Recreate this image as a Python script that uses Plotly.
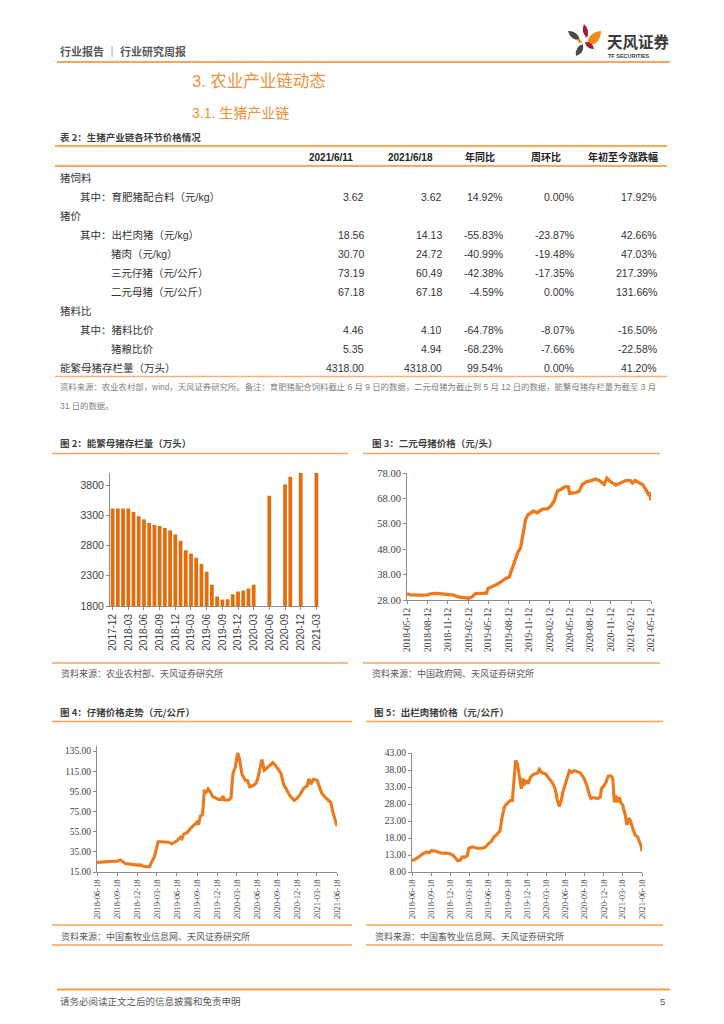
import plotly.graph_objects as go

W, H = 724, 1024

# ---------------- data ----------------
table_cols = ["2021/6/11", "2021/6/18", "年同比", "周环比", "年初至今涨跌幅"]
row_labels = ["猪饲料", "其中：育肥猪配合料（元/kg）", "猪价", "其中：出栏肉猪（元/kg）",
              "猪肉（元/kg）", "三元仔猪（元/公斤）", "二元母猪（元/公斤）", "猪料比",
              "其中：猪料比价", "猪粮比价", "能繁母猪存栏量（万头）"]
row_level = [0, 1, 0, 1, 2, 2, 2, 0, 1, 2, 0]
val_0611 = [None, 3.62, None, 18.56, 30.70, 73.19, 67.18, None, 4.46, 5.35, 4318.00]
val_0618 = [None, 3.62, None, 14.13, 24.72, 60.49, 67.18, None, 4.10, 4.94, 4318.00]
yoy_pct = [None, 14.92, None, -55.83, -40.99, -42.38, -4.59, None, -64.78, -68.23, 99.54]
wow_pct = [None, 0.00, None, -23.87, -19.48, -17.35, 0.00, None, -8.07, -7.66, 0.00]
ytd_pct = [None, 17.92, None, 42.66, 47.03, 217.39, 131.66, None, -16.50, -22.58, 41.20]

sow_months = ["2017-12", "2018-01", "2018-02", "2018-03", "2018-04", "2018-05", "2018-06",
              "2018-07", "2018-08", "2018-09", "2018-10", "2018-11", "2018-12", "2019-01",
              "2019-02", "2019-03", "2019-04", "2019-05", "2019-06", "2019-07", "2019-08",
              "2019-09", "2019-10", "2019-11", "2019-12", "2020-01", "2020-02", "2020-03",
              "2020-04", "2020-05", "2020-06", "2020-07", "2020-08", "2020-09", "2020-10",
              "2020-11", "2020-12", "2021-01", "2021-02", "2021-03"]
sow_stock = [3411, 3411, 3411, 3411, 3356, 3283, 3233, 3172, 3139, 3122, 3089, 3050,
             2983, 2878, 2722, 2667, 2600, 2494, 2367, 2150, 1956, 1906, 1911, 1994,
             2039, 2056, 2089, 2150, None, None, 3622, None, None, 3811, 3939, None,
             4161, None, None, 4318]
sow_ticks_y = [1800, 2300, 2800, 3300, 3800]

gilt_dates = ["2018-05-12", "2018-05-27", "2018-07-04", "2018-08-10", "2018-08-25", "2018-09-17",
              "2018-10-17", "2018-11-16", "2018-12-08", "2018-12-26", "2019-01-15", "2019-02-14",
              "2019-03-01", "2019-03-16", "2019-04-10", "2019-05-04", "2019-05-10", "2019-05-30",
              "2019-06-21", "2019-07-14", "2019-07-29", "2019-08-14", "2019-08-28", "2019-09-12",
              "2019-09-22", "2019-10-04", "2019-10-16", "2019-10-27", "2019-11-06", "2019-11-18",
              "2019-11-30", "2019-12-18", "2020-01-10", "2020-02-02", "2020-02-17", "2020-03-03",
              "2020-03-18", "2020-04-02", "2020-04-20", "2020-05-05", "2020-05-12", "2020-06-08",
              "2020-06-23", "2020-07-08", "2020-07-26", "2020-08-15", "2020-09-06", "2020-09-26",
              "2020-10-14", "2020-10-26", "2020-11-13", "2020-12-05", "2020-12-28", "2021-01-19",
              "2021-02-08", "2021-02-18", "2021-03-01", "2021-03-20", "2021-04-04", "2021-04-19",
              "2021-04-29", "2021-05-05", "2021-05-12"]
gilt_price = [30.5, 30.0, 29.9, 29.9, 30.4, 30.6, 30.4, 30.3, 29.9, 29.2, 28.9, 28.7,
              29.3, 30.5, 30.6, 30.7, 32.5, 33.2, 34.2, 35.5, 36.5, 37.0, 40.5, 44.5,
              46.8, 48.5, 54.5, 59.8, 61.5, 62.3, 63.0, 62.3, 63.8, 63.9, 65.0, 67.0,
              71.0, 71.5, 72.5, 72.6, 70.0, 70.3, 70.8, 73.5, 74.5, 75.0, 75.6, 74.8,
              73.5, 76.0, 74.5, 73.2, 74.0, 75.0, 75.0, 74.0, 75.0, 74.2, 73.5, 71.5,
              69.8, 70.3, 67.18]
gilt_ticks = ["2018-05-12", "2018-08-12", "2018-11-12", "2019-02-12", "2019-05-12", "2019-08-12",
              "2019-11-12", "2020-02-12", "2020-05-12", "2020-08-12", "2020-11-12", "2021-02-12",
              "2021-05-12"]
gilt_ticks_y = [28, 38, 48, 58, 68, 78]

piglet_dates = ["2018-06-18", "2018-07-11", "2018-08-03", "2018-08-25", "2018-09-17", "2018-10-03",
                "2018-10-25", "2018-11-17", "2018-12-18", "2019-01-02", "2019-01-17", "2019-02-01",
                "2019-02-13", "2019-02-24", "2019-03-07", "2019-03-16", "2019-03-24", "2019-04-06",
                "2019-04-26", "2019-05-11", "2019-05-26", "2019-06-18", "2019-07-04", "2019-07-11",
                "2019-07-19", "2019-08-03", "2019-08-18", "2019-09-02", "2019-09-18", "2019-09-25",
                "2019-10-03", "2019-10-13", "2019-10-21", "2019-10-29", "2019-11-07", "2019-11-17",
                "2019-11-28", "2019-12-10", "2019-12-26", "2020-01-10", "2020-01-14", "2020-01-22",
                "2020-02-09", "2020-02-20", "2020-02-29", "2020-03-11", "2020-03-21", "2020-03-29",
                "2020-04-10", "2020-04-25", "2020-05-06", "2020-05-15", "2020-05-29", "2020-06-13",
                "2020-06-22", "2020-07-10", "2020-07-21", "2020-08-02", "2020-08-14", "2020-08-28",
                "2020-09-09", "2020-09-24", "2020-10-05", "2020-10-17", "2020-11-02", "2020-11-17",
                "2020-12-05", "2020-12-17", "2021-01-01", "2021-01-17", "2021-02-01", "2021-02-10",
                "2021-02-19", "2021-03-03", "2021-03-19", "2021-03-29", "2021-04-10", "2021-04-26",
                "2021-05-11", "2021-05-21", "2021-05-28", "2021-06-06", "2021-06-12", "2021-06-18"]
piglet_price = [24.5, 24.8, 25.8, 25.5, 25.6, 27.0, 23.5, 22.6, 21.8, 22.0, 20.6, 20.2,
                20.3, 25.5, 30.0, 38.0, 45.0, 45.0, 45.0, 44.6, 43.0, 46.0, 49.5, 48.0,
                52.5, 54.0, 58.0, 61.5, 64.5, 62.0, 70.5, 72.0, 95.0, 94.0, 97.5, 94.5,
                90.0, 88.5, 87.0, 87.0, 90.5, 86.5, 86.5, 88.5, 113.0, 119.0, 133.0, 128.0,
                112.0, 106.0, 105.5, 99.5, 100.5, 103.0, 108.5, 126.5, 116.0, 118.0, 121.0, 123.5,
                121.0, 117.0, 113.0, 102.0, 95.0, 90.0, 86.0, 88.0, 92.0, 98.0, 100.5, 107.5,
                102.0, 107.0, 106.0, 100.0, 93.0, 89.0, 86.0, 84.0, 76.0, 70.0, 65.0, 60.49]
piglet_ticks_y = [15, 35, 55, 75, 95, 115, 135]

hog_dates = ["2018-06-18", "2018-06-26", "2018-07-09", "2018-07-25", "2018-08-10", "2018-08-25",
             "2018-09-06", "2018-09-17", "2018-10-08", "2018-10-23", "2018-11-08", "2018-11-29",
             "2018-12-15", "2018-12-31", "2019-01-11", "2019-01-22", "2019-02-04", "2019-02-12",
             "2019-02-23", "2019-03-08", "2019-03-16", "2019-04-01", "2019-04-25", "2019-05-19",
             "2019-06-03", "2019-06-15", "2019-07-01", "2019-07-13", "2019-07-26", "2019-08-11",
             "2019-08-22", "2019-09-02", "2019-09-15", "2019-09-28", "2019-10-09", "2019-10-17",
             "2019-10-25", "2019-11-02", "2019-11-11", "2019-11-21", "2019-11-29", "2019-12-05",
             "2019-12-13", "2019-12-23", "2020-01-05", "2020-01-20", "2020-02-05", "2020-02-15",
             "2020-02-25", "2020-03-16", "2020-04-01", "2020-04-17", "2020-04-30", "2020-05-11",
             "2020-05-21", "2020-05-27", "2020-06-06", "2020-06-15", "2020-06-28", "2020-07-07",
             "2020-07-18", "2020-07-30", "2020-08-15", "2020-08-30", "2020-09-15", "2020-09-28",
             "2020-10-09", "2020-10-17", "2020-10-30", "2020-11-18", "2020-12-01", "2020-12-07",
             "2020-12-20", "2020-12-29", "2021-01-08", "2021-01-21", "2021-01-30", "2021-02-06",
             "2021-02-14", "2021-02-22", "2021-03-02", "2021-03-10", "2021-03-18", "2021-03-30",
             "2021-04-07", "2021-04-15", "2021-04-23", "2021-05-04", "2021-05-15", "2021-05-28",
             "2021-06-07", "2021-06-13", "2021-06-18"]
hog_price = [11.4, 11.5, 12.0, 12.8, 13.4, 13.9, 13.6, 14.3, 14.2, 13.8, 13.5, 13.6,
             13.4, 12.9, 11.9, 11.3, 11.5, 12.4, 12.3, 12.8, 15.0, 15.4, 15.0, 15.0,
             15.3, 16.2, 17.0, 18.2, 19.0, 20.0, 24.3, 27.2, 28.2, 29.0, 29.0, 35.0,
             40.8, 40.0, 36.5, 32.5, 35.5, 33.5, 35.0, 34.0, 36.0, 36.8, 37.0, 38.2,
             37.3, 36.8, 35.5, 34.2, 32.5, 29.0, 27.3, 28.5, 31.5, 33.5, 36.0, 37.8,
             37.3, 37.8, 37.5, 37.0, 35.5, 33.5, 31.0, 29.6, 29.9, 29.6, 30.0, 32.5,
             33.5, 34.5, 36.2, 36.3, 35.5, 28.5, 30.5, 28.5, 30.0, 28.3, 27.7, 24.8,
             21.8, 23.8, 23.2, 21.0, 19.0, 18.3, 16.8, 15.8, 14.13]
hog_ticks = ["2018-06-18", "2018-09-18", "2018-12-18", "2019-03-18", "2019-06-18", "2019-09-18",
             "2019-12-18", "2020-03-18", "2020-06-18", "2020-09-18", "2020-12-18", "2021-03-18",
             "2021-06-18"]
hog_ticks_y = [8, 13, 18, 23, 28, 33, 38, 43]

# ---------------- helpers ----------------
def X(px):
    return px / W

def Y(py):
    return 1 - py / H

CJK = "Noto Sans CJK SC"
SANS = "Liberation Sans, Arial, Noto Sans CJK SC"
SERIF = "Liberation Serif, Times New Roman, serif"
ORANGE = "#EC7A1C"
BAR = "#E46C0A"
LINE_OR = "#F5A45A"
TXT = "#333333"

annotations = []
shapes = []

def text(px, py, s, size, color=TXT, anchor="left", family=SANS, bold=False):
    annotations.append(dict(x=X(px), y=Y(py), xref="paper", yref="paper", text=(f"<b>{s}</b>" if bold else s),
                            showarrow=False, xanchor=anchor, yanchor="middle",
                            font=dict(size=size, color=color, family=family)))

def hline(x0, x1, py, color, width):
    shapes.append(dict(type="line", xref="paper", yref="paper", x0=X(x0), x1=X(x1), y0=Y(py), y1=Y(py),
                       line=dict(color=color, width=width)))

def leaf(p1, p2, w, color):
    (x1, y1), (x2, y2) = p1, p2
    mx, my = (x1 + x2) / 2, (y1 + y2) / 2
    dx, dy = x2 - x1, y2 - y1
    L = (dx * dx + dy * dy) ** 0.5
    nx, ny = -dy / L * w, dx / L * w
    c1 = (mx + nx, my + ny)
    c2 = (mx - nx, my - ny)
    path = (f"M {X(x1)},{Y(y1)} Q {X(c1[0])},{Y(c1[1])} {X(x2)},{Y(y2)} "
            f"Q {X(c2[0])},{Y(c2[1])} {X(x1)},{Y(y1)} Z")
    shapes.append(dict(type="path", xref="paper", yref="paper", path=path,
                       fillcolor=color, line=dict(width=0)))

# ---------------- header ----------------
text(58, 51, "行业报告 ｜ 行业研究周报", 11, "#595959", family=CJK, bold=True)
hline(57, 670, 62, "#F08A24", 1.6)
leaf((568, 31), (580, 40), 6, "#4A4A4A")
leaf((584, 24), (587, 38), 5, "#A51C36")
leaf((601, 31), (587, 46), 9, "#F08A1C")
leaf((577, 39), (582, 43), 3, "#F08A1C")
leaf((585, 42), (594, 49), 5, "#A51C36")
leaf((583, 44), (576, 56), 6, "#4A4A4A")
text(605, 41, "天风证券", 15.5, "#3A3A3A", family=CJK, bold=True)
text(606, 56, "TF SECURITIES", 5.5, "#3A3A3A", family=SANS, bold=True)

text(190, 81, "3. 农业产业链动态", 16.5, "#F0913A", family=SANS)
text(190, 113, "3.1. 生猪产业链", 14, "#F0913A", family=SANS)

# ---------------- table ----------------
text(58, 137, "表 2：生猪产业链各环节价格情况", 9.5, "#404040", family=CJK, bold=True)
hline(55, 667, 146, "#F28E2B", 1.5)
hline(55, 667, 166, "#F28E2B", 1.5)
col_centers = [331, 410, 480, 546, 623]
col_rights = [366, 444, 505, 576, 659]
for c, h in zip(col_centers, table_cols):
    text(c, 157, h, 10, "#222222", anchor="center", family=SANS, bold=True)

indent_x = [58, 78, 109]
row_y0, row_dy = 177.5, 19.05
for i, lab in enumerate(row_labels):
    yy = row_y0 + i * row_dy
    text(indent_x[row_level[i]], yy, lab, 10.5, TXT, family=SANS)
    cols = [val_0611[i], val_0618[i], yoy_pct[i], wow_pct[i], ytd_pct[i]]
    for j, v in enumerate(cols):
        if v is None:
            continue
        s = f"{v:.2f}%" if j >= 2 else f"{v:.2f}"
        text(col_rights[j], yy, s, 10.5, TXT, anchor="right", family=SANS)
hline(55, 667, 376.5, "#F6B27A", 1.3)
text(58, 387, "资料来源：农业农村部，wind，天风证券研究所。备注：育肥猪配合饲料截止 6 月 9 日的数据，二元母猪为截止到 5 月 12 日的数据，能繁母猪存栏量为截至 3 月",
     8.4, "#808080", family=SANS)
text(58, 406, "31 日的数据。", 8.4, "#808080", family=SANS)

# ---------------- chart titles / sources ----------------
text(58, 443, "图 2：能繁母猪存栏量（万头）", 9.5, "#404040", family=CJK, bold=True)
hline(52, 348, 453.5, LINE_OR, 1.3)
hline(52, 348, 663, LINE_OR, 1.3)
text(59, 673, "资料来源：农业农村部、天风证券研究所", 9, "#595959", family=CJK)

text(370, 443, "图 3：二元母猪价格（元/头）", 9.5, "#404040", family=CJK, bold=True)
hline(363, 660, 453.5, LINE_OR, 1.3)
hline(363, 660, 663, LINE_OR, 1.3)
text(370, 673, "资料来源：中国政府网、天风证券研究所", 9, "#595959", family=CJK)

text(58, 712, "图 4：仔猪价格走势（元/公斤）", 9.5, "#404040", family=CJK, bold=True)
hline(52, 352, 721.5, LINE_OR, 1.3)
hline(52, 352, 925, LINE_OR, 1.3)
hline(52, 352, 945, LINE_OR, 1.3)
text(59, 936, "资料来源：中国畜牧业信息网、天风证券研究所", 9, "#595959", family=CJK)

text(372, 712, "图 5：出栏肉猪价格（元/公斤）", 9.5, "#404040", family=CJK, bold=True)
hline(366, 663, 721.5, LINE_OR, 1.3)
hline(366, 663, 925, LINE_OR, 1.3)
hline(366, 663, 945, LINE_OR, 1.3)
text(373, 936, "资料来源：中国畜牧业信息网、天风证券研究所", 9, "#595959", family=CJK)

# ---------------- footer ----------------
hline(57, 670, 989.5, "#F2A03D", 2.2)
text(58, 1001, "请务必阅读正文之后的信息披露和免责申明", 9.5, "#595959", family=CJK)
text(667, 1001, "5", 9.5, "#595959", anchor="right", family=SANS)

# ---------------- traces ----------------
fig = go.Figure()
fig.add_trace(go.Bar(x=sow_months, y=sow_stock, marker=dict(color=BAR, line=dict(width=0)),
                     xaxis="x", yaxis="y", showlegend=False))
fig.add_trace(go.Scatter(x=gilt_dates, y=gilt_price, mode="lines", line=dict(color=ORANGE, width=3.3),
                         xaxis="x2", yaxis="y2", showlegend=False))
fig.add_trace(go.Scatter(x=piglet_dates, y=piglet_price, mode="lines", line=dict(color=ORANGE, width=3.1),
                         xaxis="x3", yaxis="y3", showlegend=False))
fig.add_trace(go.Scatter(x=hog_dates, y=hog_price, mode="lines", line=dict(color=ORANGE, width=3.1),
                         xaxis="x4", yaxis="y4", showlegend=False))

AX = "#8C8C8C"
def yax(dom, rng, vals, fmt, family, size, anchor):
    return dict(domain=dom, range=rng, tickvals=vals, tickformat=fmt, showgrid=False, zeroline=False,
                showline=True, linecolor=AX, linewidth=1, ticks="outside", ticklen=3, tickcolor=AX,
                tickfont=dict(family=family, size=size, color="#404040"), anchor=anchor,
                automargin=False, fixedrange=True)

def xdate(dom, ticks, anchor, size):
    return dict(domain=dom, type="date", range=[ticks[0], ticks[-1]], tickvals=ticks, ticktext=ticks,
                tickangle=-90, showgrid=False, zeroline=False, showline=True, linecolor=AX, linewidth=1,
                ticks="outside", ticklen=3, tickcolor=AX,
                tickfont=dict(family=SERIF, size=size, color="#404040"), anchor=anchor, automargin=False)

layout = dict(
    width=W, height=H, autosize=False, margin=dict(l=0, r=0, t=0, b=0),
    paper_bgcolor="white", plot_bgcolor="white", bargap=0.28, showlegend=False,
    annotations=annotations, shapes=shapes,
    xaxis=dict(domain=[X(110), X(319)], type="category", categoryorder="array", categoryarray=sow_months,
               range=[-0.5, len(sow_months) - 0.5], tickvals=sow_months[::3], ticktext=sow_months[::3],
               tickangle=-90, showgrid=False, zeroline=False, showline=True, linecolor=AX, linewidth=1,
               ticks="outside", ticklen=3, tickcolor=AX,
               tickfont=dict(family=SANS, size=10, color="#404040"), anchor="y", automargin=False),
    yaxis=yax([Y(606), Y(473)], [1800, 4000], sow_ticks_y, "d", SANS, 10.5, "x"),
    xaxis2=xdate([X(407), X(651)], gilt_ticks, "y2", 9.5),
    yaxis2=yax([Y(600), Y(473)], [28, 78], gilt_ticks_y, ".2f", SERIF, 10.5, "x2"),
    xaxis3=xdate([X(97), X(337)], hog_ticks, "y3", 8.5),
    yaxis3=yax([Y(872), Y(746)], [15, 140], piglet_ticks_y, ".2f", SERIF, 9.5, "x3"),
    xaxis4=xdate([X(412), X(642)], hog_ticks, "y4", 8.5),
    yaxis4=yax([Y(872), Y(753)], [8, 43], hog_ticks_y, ".2f", SERIF, 9.5, "x4"),
)
fig.update_layout(**layout)
fig.write_html("out.html", config={"displayModeBar": False},
               post_script="document.body.style.margin='0';document.body.style.overflow='hidden';")
